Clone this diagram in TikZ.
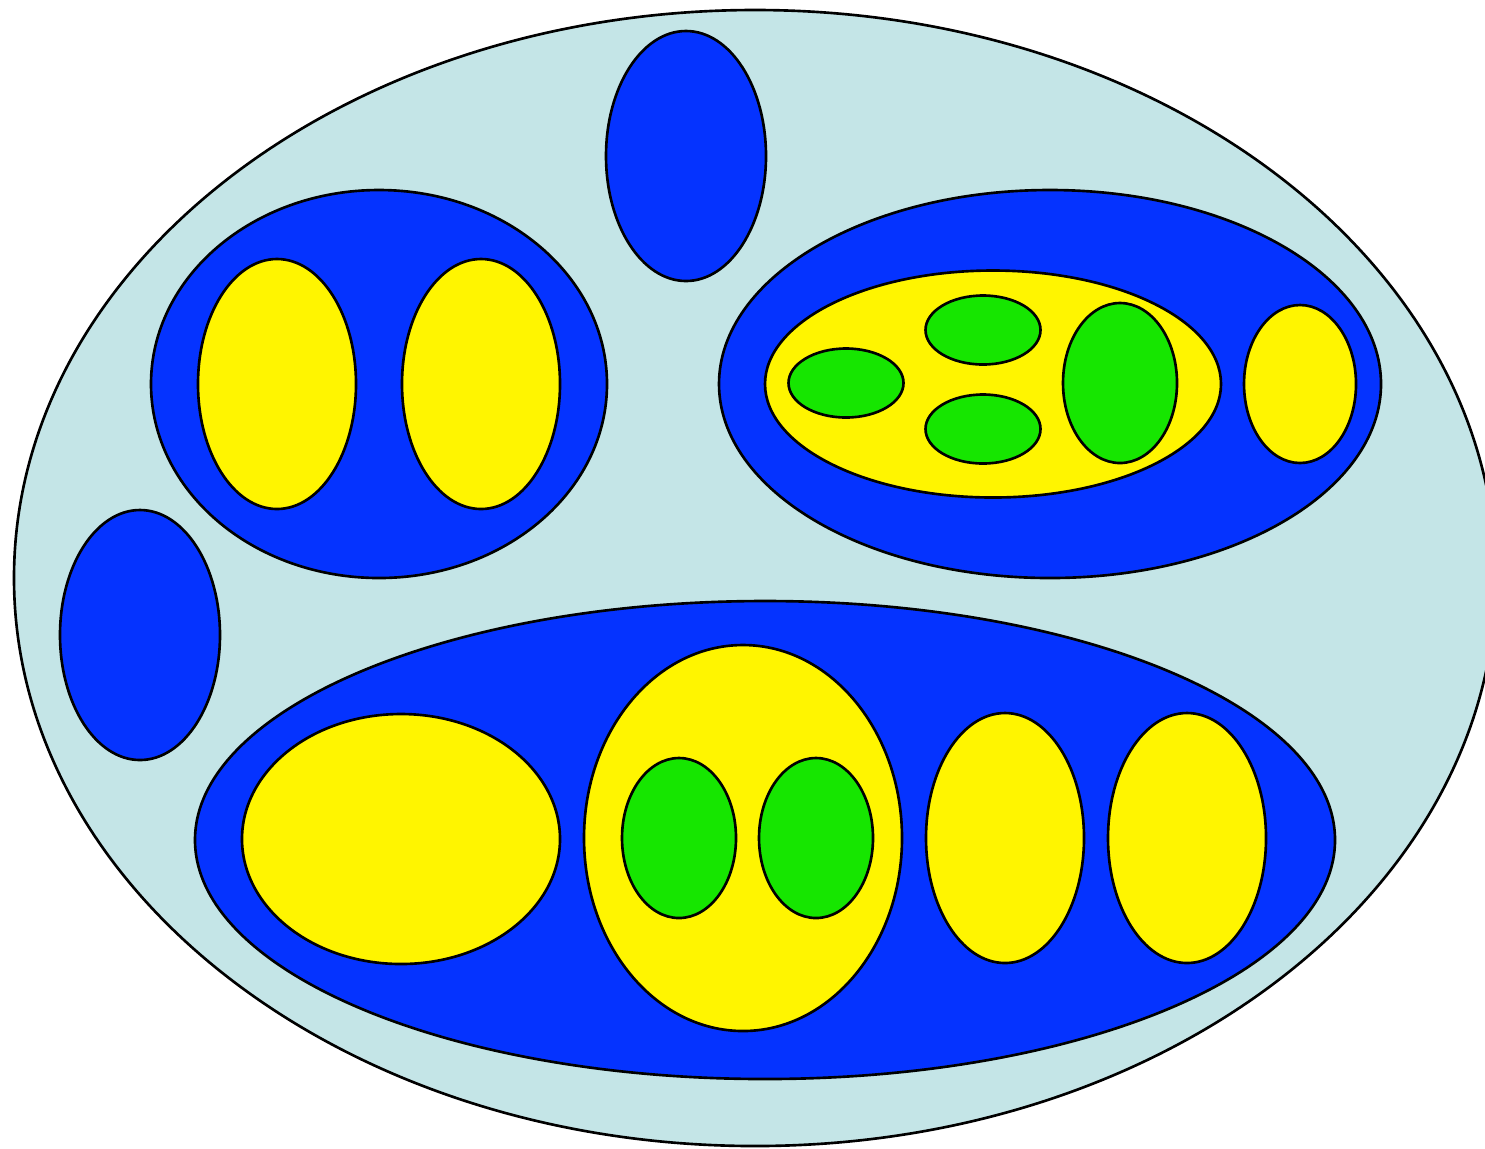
\documentclass[tikz,border=0pt]{standalone}
\usepackage{tikz}
\usetikzlibrary{shapes.geometric}
\definecolor{setpale}{RGB}{196,229,231}
\definecolor{setblue}{RGB}{5,51,255}
\definecolor{setyellow}{RGB}{255,245,0}
\definecolor{setgreen}{RGB}{22,230,0}

\begin{document}
\begin{tikzpicture}[
    blob/.style={ellipse, draw=black, line width=0.75pt, inner sep=0pt},
    outerset/.style={blob, fill=setpale},
    blueset/.style={blob, fill=setblue},
    yellowset/.style={blob, fill=setyellow},
    greenset/.style={blob, fill=setgreen},
]
    \useasboundingbox (0,0) rectangle (14.85,-11.48);

    % Outer set (cut off at the right)
    \node[outerset, minimum width=14.82cm, minimum height=11.36cm] (outer) at (7.55,-5.78) {};

    % Single blue sets
    \node[blueset, minimum width=1.6cm, minimum height=2.5cm] (btop) at (6.86,-1.56) {};
    \node[blueset, minimum width=1.6cm, minimum height=2.5cm] (bleft) at (1.40,-6.35) {};

    % Left blue set with two yellow
    \node[blueset, minimum width=4.56cm, minimum height=3.88cm] (bl) at (3.79,-3.84) {};
    \foreach \x [count=\i] in {2.77,4.81} {
        \node[yellowset, minimum width=1.58cm, minimum height=2.5cm] (bl-y\i) at (\x,-3.84) {};
    }

    % Right blue set
    \node[blueset, minimum width=6.62cm, minimum height=3.88cm] (br) at (10.50,-3.84) {};
    \node[yellowset, minimum width=4.56cm, minimum height=2.27cm] (br-y1) at (9.93,-3.84) {};
    \node[greenset, minimum width=1.15cm, minimum height=0.69cm] (br-g1) at (8.46,-3.83) {};
    \node[greenset, minimum width=1.15cm, minimum height=0.69cm] (br-g2) at (9.83,-3.30) {};
    \node[greenset, minimum width=1.15cm, minimum height=0.69cm] (br-g3) at (9.83,-4.29) {};
    \node[greenset, minimum width=1.14cm, minimum height=1.6cm] (br-g4) at (11.20,-3.83) {};
    \node[yellowset, minimum width=1.12cm, minimum height=1.58cm] (br-y2) at (13.00,-3.84) {};

    % Bottom blue set
    \node[blueset, minimum width=11.40cm, minimum height=4.78cm] (bb) at (7.65,-8.40) {};
    \node[yellowset, minimum width=3.18cm, minimum height=2.5cm] (bb-y1) at (4.01,-8.39) {};
    \node[yellowset, minimum width=3.18cm, minimum height=3.86cm] (bb-y2) at (7.43,-8.38) {};
    \foreach \x [count=\i] in {6.79,8.16} {
        \node[greenset, minimum width=1.14cm, minimum height=1.6cm] (bb-g\i) at (\x,-8.38) {};
    }
    \foreach \x [count=\i from 3] in {10.05,11.87} {
        \node[yellowset, minimum width=1.58cm, minimum height=2.5cm] (bb-y\i) at (\x,-8.38) {};
    }
\end{tikzpicture}
\end{document}
